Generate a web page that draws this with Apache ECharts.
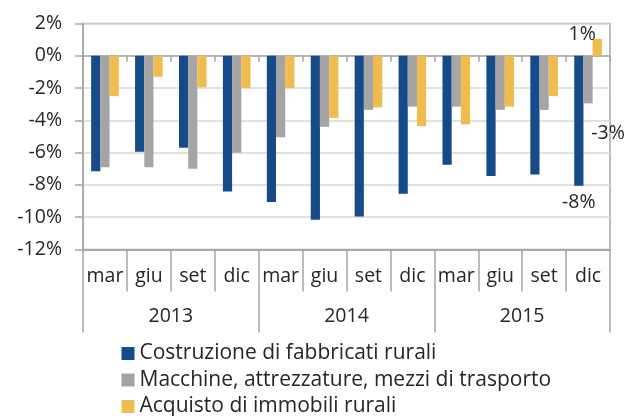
<!DOCTYPE html>
<html>
<head>
<meta charset="utf-8">
<script src="https://cdn.jsdelivr.net/npm/echarts@6/dist/echarts.min.js"></script>
<style>
  html, body { margin: 0; padding: 0; background: #fff; }
  #chart { width: 625px; height: 416px; }
</style>
</head>
<body>
<div id="chart"></div>
<script>
// quarters and years on the two-level x axis
const months = ['mar', 'giu', 'set', 'dic', 'mar', 'giu', 'set', 'dic', 'mar', 'giu', 'set', 'dic']
const years = ['2013', '2014', '2015']
const yTicks = [-12, -10, -8, -6, -4, -2, 0, 2]

// series values, in %
const names = [
  'Costruzione di fabbricati rurali',
  'Macchine, attrezzature, mezzi di trasporto',
  'Acquisto di immobili rurali',
]
const costruzione = [-7.15, -5.95, -5.7, -8.4, -9.05, -10.15, -9.95, -8.55, -6.75, -7.45, -7.35, -8.05]
const macchine = [-6.9, -6.9, -7.0, -6.0, -5.05, -4.4, -3.35, -3.15, -3.15, -3.35, -3.35, -2.95]
const acquisto = [-2.5, -1.3, -1.95, -2.0, -2.0, -3.85, -3.2, -4.35, -4.25, -3.15, -2.5, 1.05]

const colors = ['#174A88', '#A5A5A5', '#F0BC4E']
const font = '"Open Sans", "Noto Sans", sans-serif'
const fontSize = 19.5
const textColor = '#262626'
const axisGray = '#A6A6A6'

// last point gets a label, each placed like in the original
const lastLabels = [
  { text: '-8%', position: 'bottom', offset: [0, 3] },
  { text: '-3%', position: 'bottom', offset: [20, 16] },
  { text: '1%', position: 'top', offset: [-15, 10] },
]

function buildData(values, idx) {
  return values.map((v, i) => {
    if (i !== values.length - 1) return v
    const l = lastLabels[idx]
    return {
      value: v,
      label: {
        show: true,
        position: l.position,
        offset: l.offset,
        distance: 4,
        formatter: l.text,
        fontFamily: font,
        fontSize: fontSize,
        color: textColor,
      },
    }
  })
}

const gridBox = { left: 83, right: 15, top: 23.5, bottom: 166.5 }

const series = [costruzione, macchine, acquisto].map((vals, idx) => ({
  type: 'bar',
  name: names[idx],
  data: buildData(vals, idx),
  barWidth: 9.2,
  barGap: '0%',
  itemStyle: { color: colors[idx] },
  xAxisIndex: 0,
  yAxisIndex: 0,
}))

const chart = echarts.init(document.getElementById('chart'))
chart.setOption({
  animation: false,
  color: colors,
  grid: [
    Object.assign({ show: true, borderColor: axisGray, borderWidth: 1.5 }, gridBox),
    Object.assign({}, gridBox),
    Object.assign({}, gridBox),
  ],
  xAxis: [
    {
      // ticks on the zero line
      gridIndex: 0,
      type: 'category',
      data: months,
      axisLine: { onZero: true, lineStyle: { color: axisGray, width: 1.5 } },
      axisTick: { show: true, length: 6, interval: 0, lineStyle: { color: axisGray, width: 1.5 } },
      axisLabel: { show: false },
    },
    {
      // quarter labels
      gridIndex: 1,
      type: 'category',
      data: months,
      position: 'bottom',
      axisLine: { onZero: false, lineStyle: { color: axisGray, width: 1.5 } },
      axisTick: { show: true, length: 42, interval: 0, lineStyle: { color: axisGray, width: 1.5 } },
      axisLabel: { interval: 0, margin: 17, fontFamily: font, fontSize: fontSize, color: textColor },
    },
    {
      // year labels
      gridIndex: 2,
      type: 'category',
      data: years,
      position: 'bottom',
      axisLine: { onZero: false, lineStyle: { color: axisGray, width: 1.5 } },
      axisTick: { show: true, length: 83, interval: 0, lineStyle: { color: axisGray, width: 1.5 } },
      axisLabel: { interval: 0, margin: 57, fontFamily: font, fontSize: fontSize, color: textColor },
    },
  ],
  yAxis: [
    {
      gridIndex: 0,
      type: 'value',
      min: yTicks[0],
      max: yTicks[yTicks.length - 1],
      interval: 2,
      axisLine: { show: true, lineStyle: { color: axisGray, width: 1.5 } },
      axisTick: { show: true, length: 8, lineStyle: { color: axisGray, width: 1.5 } },
      splitLine: { show: true, lineStyle: { color: '#D9D9D9', width: 1.5 } },
      axisLabel: { margin: 21, fontFamily: font, fontSize: fontSize, color: textColor, formatter: '{value}%' },
    },
    { gridIndex: 1, type: 'value', min: 0, max: 1, show: false },
    { gridIndex: 2, type: 'value', min: 0, max: 1, show: false },
  ],
  legend: {
    orient: 'vertical',
    left: 121.5,
    top: 343,
    height: 90,
    padding: 0,
    itemWidth: 13,
    itemHeight: 13,
    itemGap: 5.5,
    icon: 'rect',
    data: names,
    textStyle: { fontFamily: font, fontSize: 21, color: textColor, lineHeight: 20 },
  },
  series: series,
})
</script>
</body>
</html>
